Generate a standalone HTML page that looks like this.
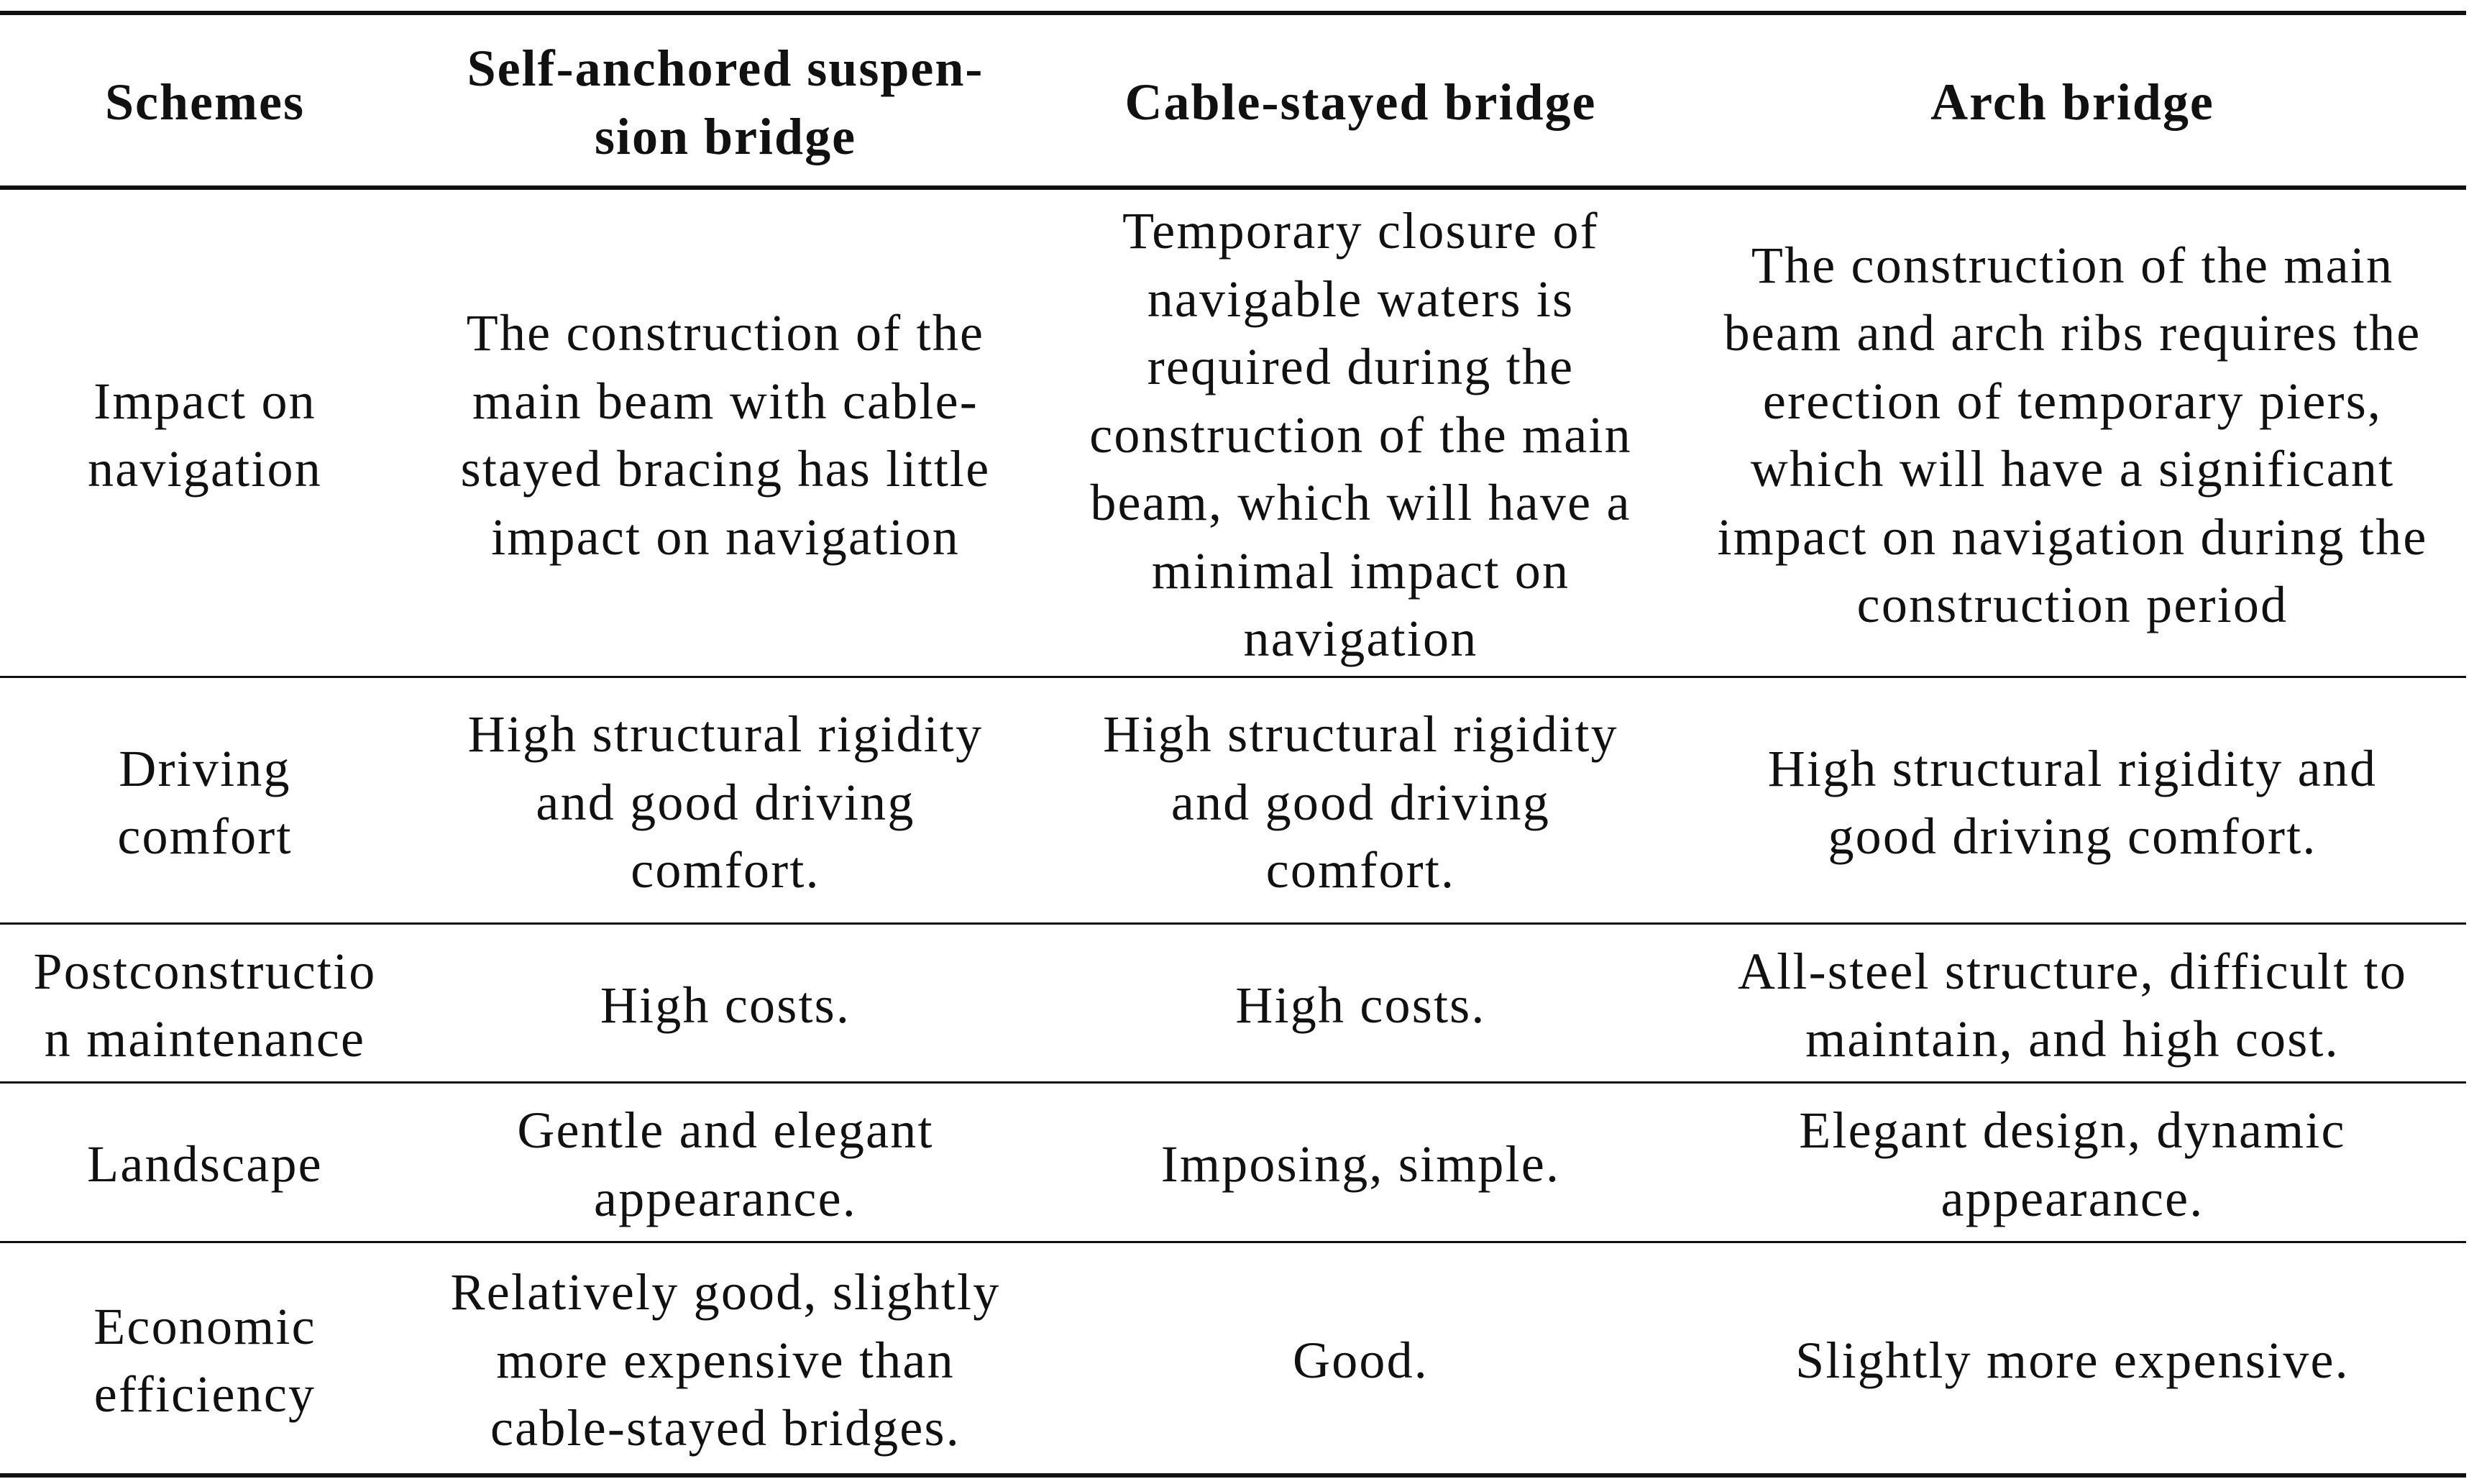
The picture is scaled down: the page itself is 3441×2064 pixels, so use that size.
<!DOCTYPE html>
<html><head><meta charset="utf-8"><style>
html,body{margin:0;padding:0;background:#fff;}
body{width:3441px;height:2064px;position:relative;overflow:hidden;font-family:"Liberation Serif",serif;color:#111;}
.r{position:absolute;left:0;width:3430px;background:#111;}
.c{position:absolute;display:flex;align-items:center;justify-content:center;text-align:center;font-size:72px;letter-spacing:2.2px;line-height:94.5px;white-space:nowrap;padding-top:6px;box-sizing:border-box;}
.h{font-weight:bold;letter-spacing:2px;}
</style></head><body>
<div class="r" style="top:15px;height:6px"></div>
<div class="r" style="top:258px;height:6px"></div>
<div class="r" style="top:940px;height:3px"></div>
<div class="r" style="top:1283px;height:3px"></div>
<div class="r" style="top:1504px;height:3px"></div>
<div class="r" style="top:1726px;height:3px"></div>
<div class="r" style="top:2049px;height:6px"></div>

<div class="c h" style="left:0;width:570px;top:21px;height:237px">Schemes</div>
<div class="c h" style="left:570px;width:878px;top:21px;height:237px">Self-anchored suspen-<br>sion bridge</div>
<div class="c h" style="left:1448px;width:889px;top:21px;height:237px">Cable-stayed bridge</div>
<div class="c h" style="left:2337px;width:1091px;top:21px;height:237px">Arch bridge</div>

<div class="c" style="left:0;width:570px;top:264px;height:676px">Impact on<br>navigation</div>
<div class="c" style="left:570px;width:878px;top:264px;height:676px">The construction of the<br>main beam with cable-<br>stayed bracing has little<br>impact on navigation</div>
<div class="c" style="left:1448px;width:889px;top:264px;height:676px">Temporary closure of<br>navigable waters is<br>required during the<br>construction of the main<br>beam, which will have a<br>minimal impact on<br>navigation</div>
<div class="c" style="left:2337px;width:1091px;top:264px;height:676px">The construction of the main<br>beam and arch ribs requires the<br>erection of temporary piers,<br>which will have a significant<br>impact on navigation during the<br>construction period</div>

<div class="c" style="left:0;width:570px;top:943px;height:340px">Driving<br>comfort</div>
<div class="c" style="left:570px;width:878px;top:943px;height:340px">High structural rigidity<br>and good driving<br>comfort.</div>
<div class="c" style="left:1448px;width:889px;top:943px;height:340px">High structural rigidity<br>and good driving<br>comfort.</div>
<div class="c" style="left:2337px;width:1091px;top:943px;height:340px">High structural rigidity and<br>good driving comfort.</div>

<div class="c" style="left:0;width:570px;top:1286px;height:218px">Postconstructio<br>n maintenance</div>
<div class="c" style="left:570px;width:878px;top:1286px;height:218px">High costs.</div>
<div class="c" style="left:1448px;width:889px;top:1286px;height:218px">High costs.</div>
<div class="c" style="left:2337px;width:1091px;top:1286px;height:218px">All-steel structure, difficult to<br>maintain, and high cost.</div>

<div class="c" style="left:0;width:570px;top:1507px;height:219px">Landscape</div>
<div class="c" style="left:570px;width:878px;top:1507px;height:219px">Gentle and elegant<br>appearance.</div>
<div class="c" style="left:1448px;width:889px;top:1507px;height:219px">Imposing, simple.</div>
<div class="c" style="left:2337px;width:1091px;top:1507px;height:219px">Elegant design, dynamic<br>appearance.</div>

<div class="c" style="left:0;width:570px;top:1729px;height:320px">Economic<br>efficiency</div>
<div class="c" style="left:570px;width:878px;top:1729px;height:320px">Relatively good, slightly<br>more expensive than<br>cable-stayed bridges.</div>
<div class="c" style="left:1448px;width:889px;top:1729px;height:320px">Good.</div>
<div class="c" style="left:2337px;width:1091px;top:1729px;height:320px">Slightly more expensive.</div>
</body></html>
